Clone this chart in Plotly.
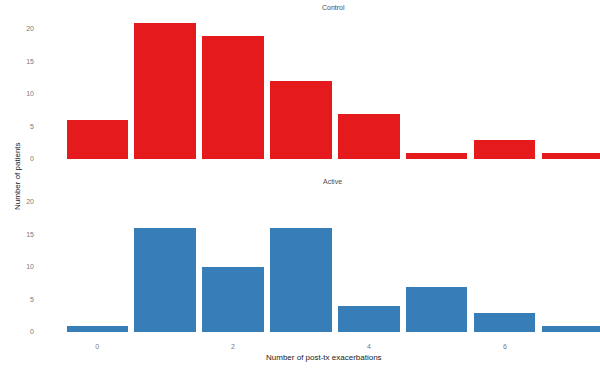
import plotly.graph_objects as go
from plotly.subplots import make_subplots

# Exacerbation counts per arm
exacerbations = [0, 1, 2, 3, 4, 5, 6, 7]
control_patients = [6, 21, 19, 12, 7, 1, 3, 1]
active_patients = [1, 16, 10, 16, 4, 7, 3, 1]
panel_names = ["Control", "Active"]
y_ticks = [0, 5, 10, 15, 20]
x_ticks = [0, 2, 4, 6]

W, H = 600, 372
L = 40

def px_x(p):
    return (p - L) / (W - L)

def px_y(p):
    return 1 - p / H

fig = make_subplots(rows=2, cols=1, shared_xaxes=False)

fig.add_trace(go.Bar(x=exacerbations, y=control_patients, width=0.9,
                     marker=dict(color="#E41A1C", line=dict(width=0)),
                     showlegend=False), row=1, col=1)
fig.add_trace(go.Bar(x=exacerbations, y=active_patients, width=0.9,
                     marker=dict(color="#377EB8", line=dict(width=0)),
                     showlegend=False), row=2, col=1)

tick_font = dict(family="Liberation Sans, Arial, sans-serif", size=7, color="#7a7a7a")
xr = [-0.84, 7.40]
yr = [-1.05, 22.05]

fig.update_layout(
    width=W, height=H,
    margin=dict(l=L, r=0, t=0, b=0),
    paper_bgcolor="white", plot_bgcolor="white",
    bargap=0,
    xaxis=dict(range=xr, showticklabels=False, showgrid=False, zeroline=False,
               tickvals=x_ticks, ticks=""),
    xaxis2=dict(range=xr, tickvals=x_ticks, showgrid=False, zeroline=False,
                ticks="", tickfont=tick_font, ticklabelstandoff=2),
    yaxis=dict(domain=[px_y(165.8), px_y(15.7)], range=yr, tickvals=y_ticks,
               showgrid=False, zeroline=False, ticks="", tickfont=tick_font,
               ticklabelstandoff=5),
    yaxis2=dict(domain=[px_y(338.8), px_y(188.7)], range=yr, tickvals=y_ticks,
                showgrid=False, zeroline=False, ticks="", tickfont=tick_font,
                ticklabelstandoff=5),
)

title_font = dict(family="Liberation Sans, Arial, sans-serif", size=8, color="#1a1a1a")
strip_font = dict(family="Liberation Sans, Arial, sans-serif", size=7, color="#4d4d4d")

fig.add_annotation(text=panel_names[0], x=px_x(333), y=px_y(8), xref="paper", yref="paper",
                   showarrow=False, font=strip_font, xanchor="center", yanchor="middle")
fig.add_annotation(text=panel_names[1], x=px_x(332), y=px_y(181), xref="paper", yref="paper",
                   showarrow=False, font=strip_font, xanchor="center", yanchor="middle")
fig.add_annotation(text="Number of post-tx exacerbations", x=px_x(324), y=px_y(357),
                   xref="paper", yref="paper", showarrow=False, font=title_font,
                   xanchor="center", yanchor="middle")
fig.add_annotation(text="Number of patients", x=px_x(17), y=px_y(176),
                   xref="paper", yref="paper", showarrow=False, font=title_font,
                   textangle=-90, xanchor="center", yanchor="middle")

fig.write_html("out.html")
